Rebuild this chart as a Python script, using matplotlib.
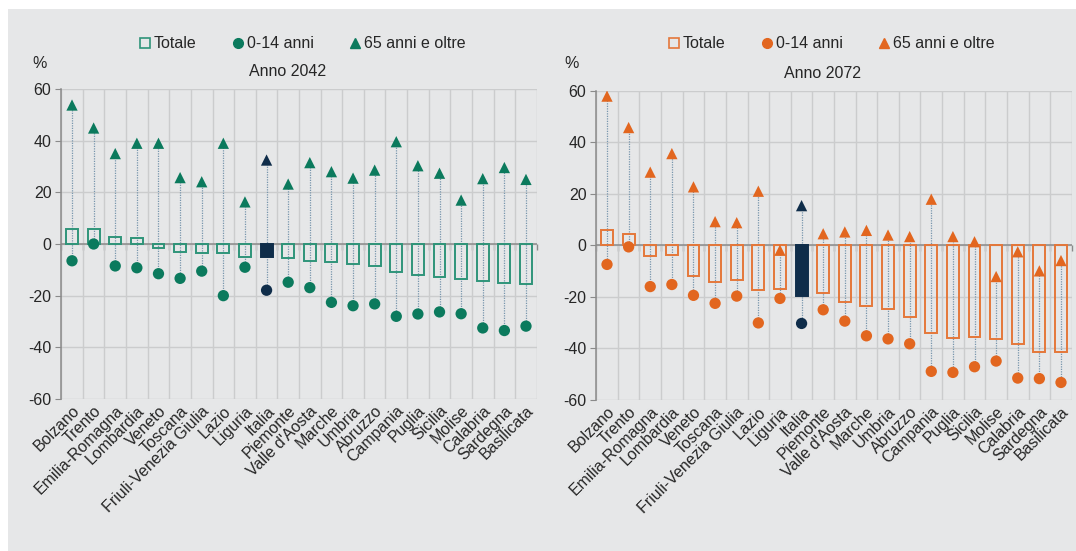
import matplotlib
matplotlib.use("Agg")
import matplotlib.pyplot as plt
import numpy as np
from matplotlib.lines import Line2D
from matplotlib.patches import Rectangle

plt.rcParams["font.family"] = ["Liberation Sans", "DejaVu Sans"]
plt.rcParams["axes.unicode_minus"] = False

# --- data (variazione % della popolazione) ---
regions = ["Bolzano", "Trento", "Emilia-Romagna", "Lombardia", "Veneto", "Toscana",
           "Friuli-Venezia Giulia", "Lazio", "Liguria", "Italia", "Piemonte",
           "Valle d'Aosta", "Marche", "Umbria", "Abruzzo", "Campania", "Puglia",
           "Sicilia", "Molise", "Calabria", "Sardegna", "Basilicata"]

tot_2042 = [5.9, 5.8, 2.6, 2.3, -1.7, -3.1, -3.5, -3.5, -5.0, -4.9, -5.5,
            -6.5, -6.9, -7.7, -8.5, -11.0, -12.0, -12.7, -13.7, -14.2, -15.1, -15.4]
young_2042 = [-6.5, 0.0, -8.5, -9.2, -11.5, -13.3, -10.5, -20.0, -9.0, -17.9, -14.8,
              -16.9, -22.6, -23.9, -23.2, -28.0, -27.1, -26.3, -27.0, -32.5, -33.5, -31.8]
old_2042 = [53.8, 44.9, 35.0, 39.0, 39.0, 25.7, 24.1, 39.0, 16.3, 32.5, 23.2,
            31.5, 28.0, 25.5, 28.6, 39.6, 30.3, 27.4, 17.0, 25.3, 29.6, 25.0]

tot_2072 = [5.8, 4.5, -4.3, -3.6, -11.7, -14.3, -13.3, -17.5, -16.9, -19.6, -18.6,
            -21.9, -23.7, -24.8, -27.7, -34.1, -36.0, -35.7, -36.5, -38.3, -41.3, -41.4]
young_2072 = [-7.4, -0.6, -16.0, -15.2, -19.4, -22.5, -19.7, -30.1, -20.6, -30.3, -25.0,
              -29.4, -35.1, -36.3, -38.2, -48.9, -49.3, -47.1, -44.9, -51.5, -51.7, -53.2]
old_2072 = [57.9, 45.7, 28.4, 35.6, 22.7, 9.2, 8.8, 21.0, -1.9, 15.4, 4.5,
            5.2, 5.8, 4.0, 3.4, 17.9, 3.4, 1.4, -12.1, -2.5, -9.9, -5.9]

legend_labels = ["Totale", "0-14 anni", "65 anni e oltre"]
yticks = [-60, -40, -20, 0, 20, 40, 60]

BG = "#e6e7e8"
GRID = "#cbcccd"
AXIS = "#8a8a8a"
LINK = "#7896ad"
ITALY = "#0f2d4a"
GREEN = "#0b7a5d"
GREEN_BOX = "#2f9479"
ORANGE = "#e2661f"
ORANGE_BOX = "#e4773a"
TEXT = "#262626"


def draw_panel(ax, tot, young, old, color, box_color):
    n = len(regions)
    x = np.arange(n)
    cols = [ITALY if r == "Italia" else color for r in regions]
    edges = [ITALY if r == "Italia" else box_color for r in regions]
    faces = [ITALY if r == "Italia" else "none" for r in regions]
    lo = np.minimum(young, old)
    hi = np.maximum(young, old)

    ax.set_facecolor(BG)
    ax.vlines(x, lo, hi, colors=LINK, linestyles=(0, (1, 1)), lw=0.9, zorder=2)
    ax.bar(x, tot, width=0.55, facecolor=faces, edgecolor=edges, lw=1.4, zorder=3)
    ax.axhline(0, color=AXIS, lw=1.1, zorder=2.5)
    ax.scatter(x, young, s=66, c=cols, marker="o", lw=0, zorder=4)
    ax.scatter(x, old, s=66, c=cols, marker="^", lw=0, zorder=4)

    ax.set_xlim(-0.5, n - 0.5)
    ax.set_ylim(-60, 60)
    ax.set_yticks(yticks)
    ax.set_xticks(x, regions, rotation=45, ha="right", rotation_mode="anchor",
                  fontsize=11.5, color=TEXT)
    ax.set_xticks(np.arange(-0.5, n, 1), minor=True)
    ax.tick_params(axis="x", which="both", length=0, pad=3)
    ax.tick_params(axis="y", length=4, color=AXIS, labelsize=11.5, labelcolor=TEXT, pad=3)
    ax.grid(axis="y", which="major", color=GRID, lw=1)
    ax.grid(axis="x", which="minor", color=GRID, lw=1)
    ax.set_axisbelow(True)
    for s in ["top", "right", "bottom"]:
        ax.spines[s].set_visible(False)
    ax.spines["left"].set_color(AXIS)
    ax.spines["left"].set_linewidth(1.1)

    sec = ax.secondary_xaxis(0, transform=ax.transData)
    sec.set_xticks(np.arange(-0.5, n, 1))
    sec.tick_params(length=4, color=AXIS, width=1, labelbottom=False, labeltop=False)
    sec.spines["bottom"].set_visible(False)
    sec.spines["top"].set_visible(False)


fig = plt.figure(figsize=(10.76, 5.51), dpi=100)
fig.patch.set_facecolor("white")
fig.add_artist(Rectangle((8 / 1076, 0), 1, 1 - 9 / 551, transform=fig.transFigure,
                         facecolor=BG, edgecolor="none", zorder=0))

ax1 = fig.add_axes([61.2 / 1076, (551 - 399) / 551, 475.6 / 1076, 310 / 551])
ax2 = fig.add_axes([596.2 / 1076, (551 - 400) / 551, 475.6 / 1076, 309.3 / 551])

draw_panel(ax1, tot_2042, young_2042, old_2042, GREEN, GREEN_BOX)
draw_panel(ax2, tot_2072, young_2072, old_2072, ORANGE, ORANGE_BOX)

for color, box_color, cx, px in [(GREEN, GREEN_BOX, 302 / 1076, 40 / 1076),
                                 (ORANGE, ORANGE_BOX, 831 / 1076, 572 / 1076)]:
    handles = [
        Line2D([], [], ls="", marker="s", mfc="none", mec=box_color, mew=1.2, ms=7.5),
        Line2D([], [], ls="", marker="o", mfc=color, mec=color, ms=7),
        Line2D([], [], ls="", marker="^", mfc=color, mec=color, ms=7),
    ]
    fig.legend(handles, legend_labels, loc="center", bbox_to_anchor=(cx, 1 - 44 / 551),
               ncol=3, frameon=False, fontsize=11.5, handlelength=0.8, handletextpad=0.15,
               columnspacing=2.2, labelcolor=TEXT)
    fig.text(px, 1 - 63 / 551, "%", fontsize=11.5, color=TEXT, ha="center", va="center")

fig.text(288 / 1076, 1 - 72 / 551, "Anno 2042", fontsize=11.5, color=TEXT,
         ha="center", va="center")
fig.text(822 / 1076, 1 - 73 / 551, "Anno 2072", fontsize=11.5, color=TEXT,
         ha="center", va="center")

fig.savefig("out.png", dpi=100, facecolor=fig.get_facecolor())
